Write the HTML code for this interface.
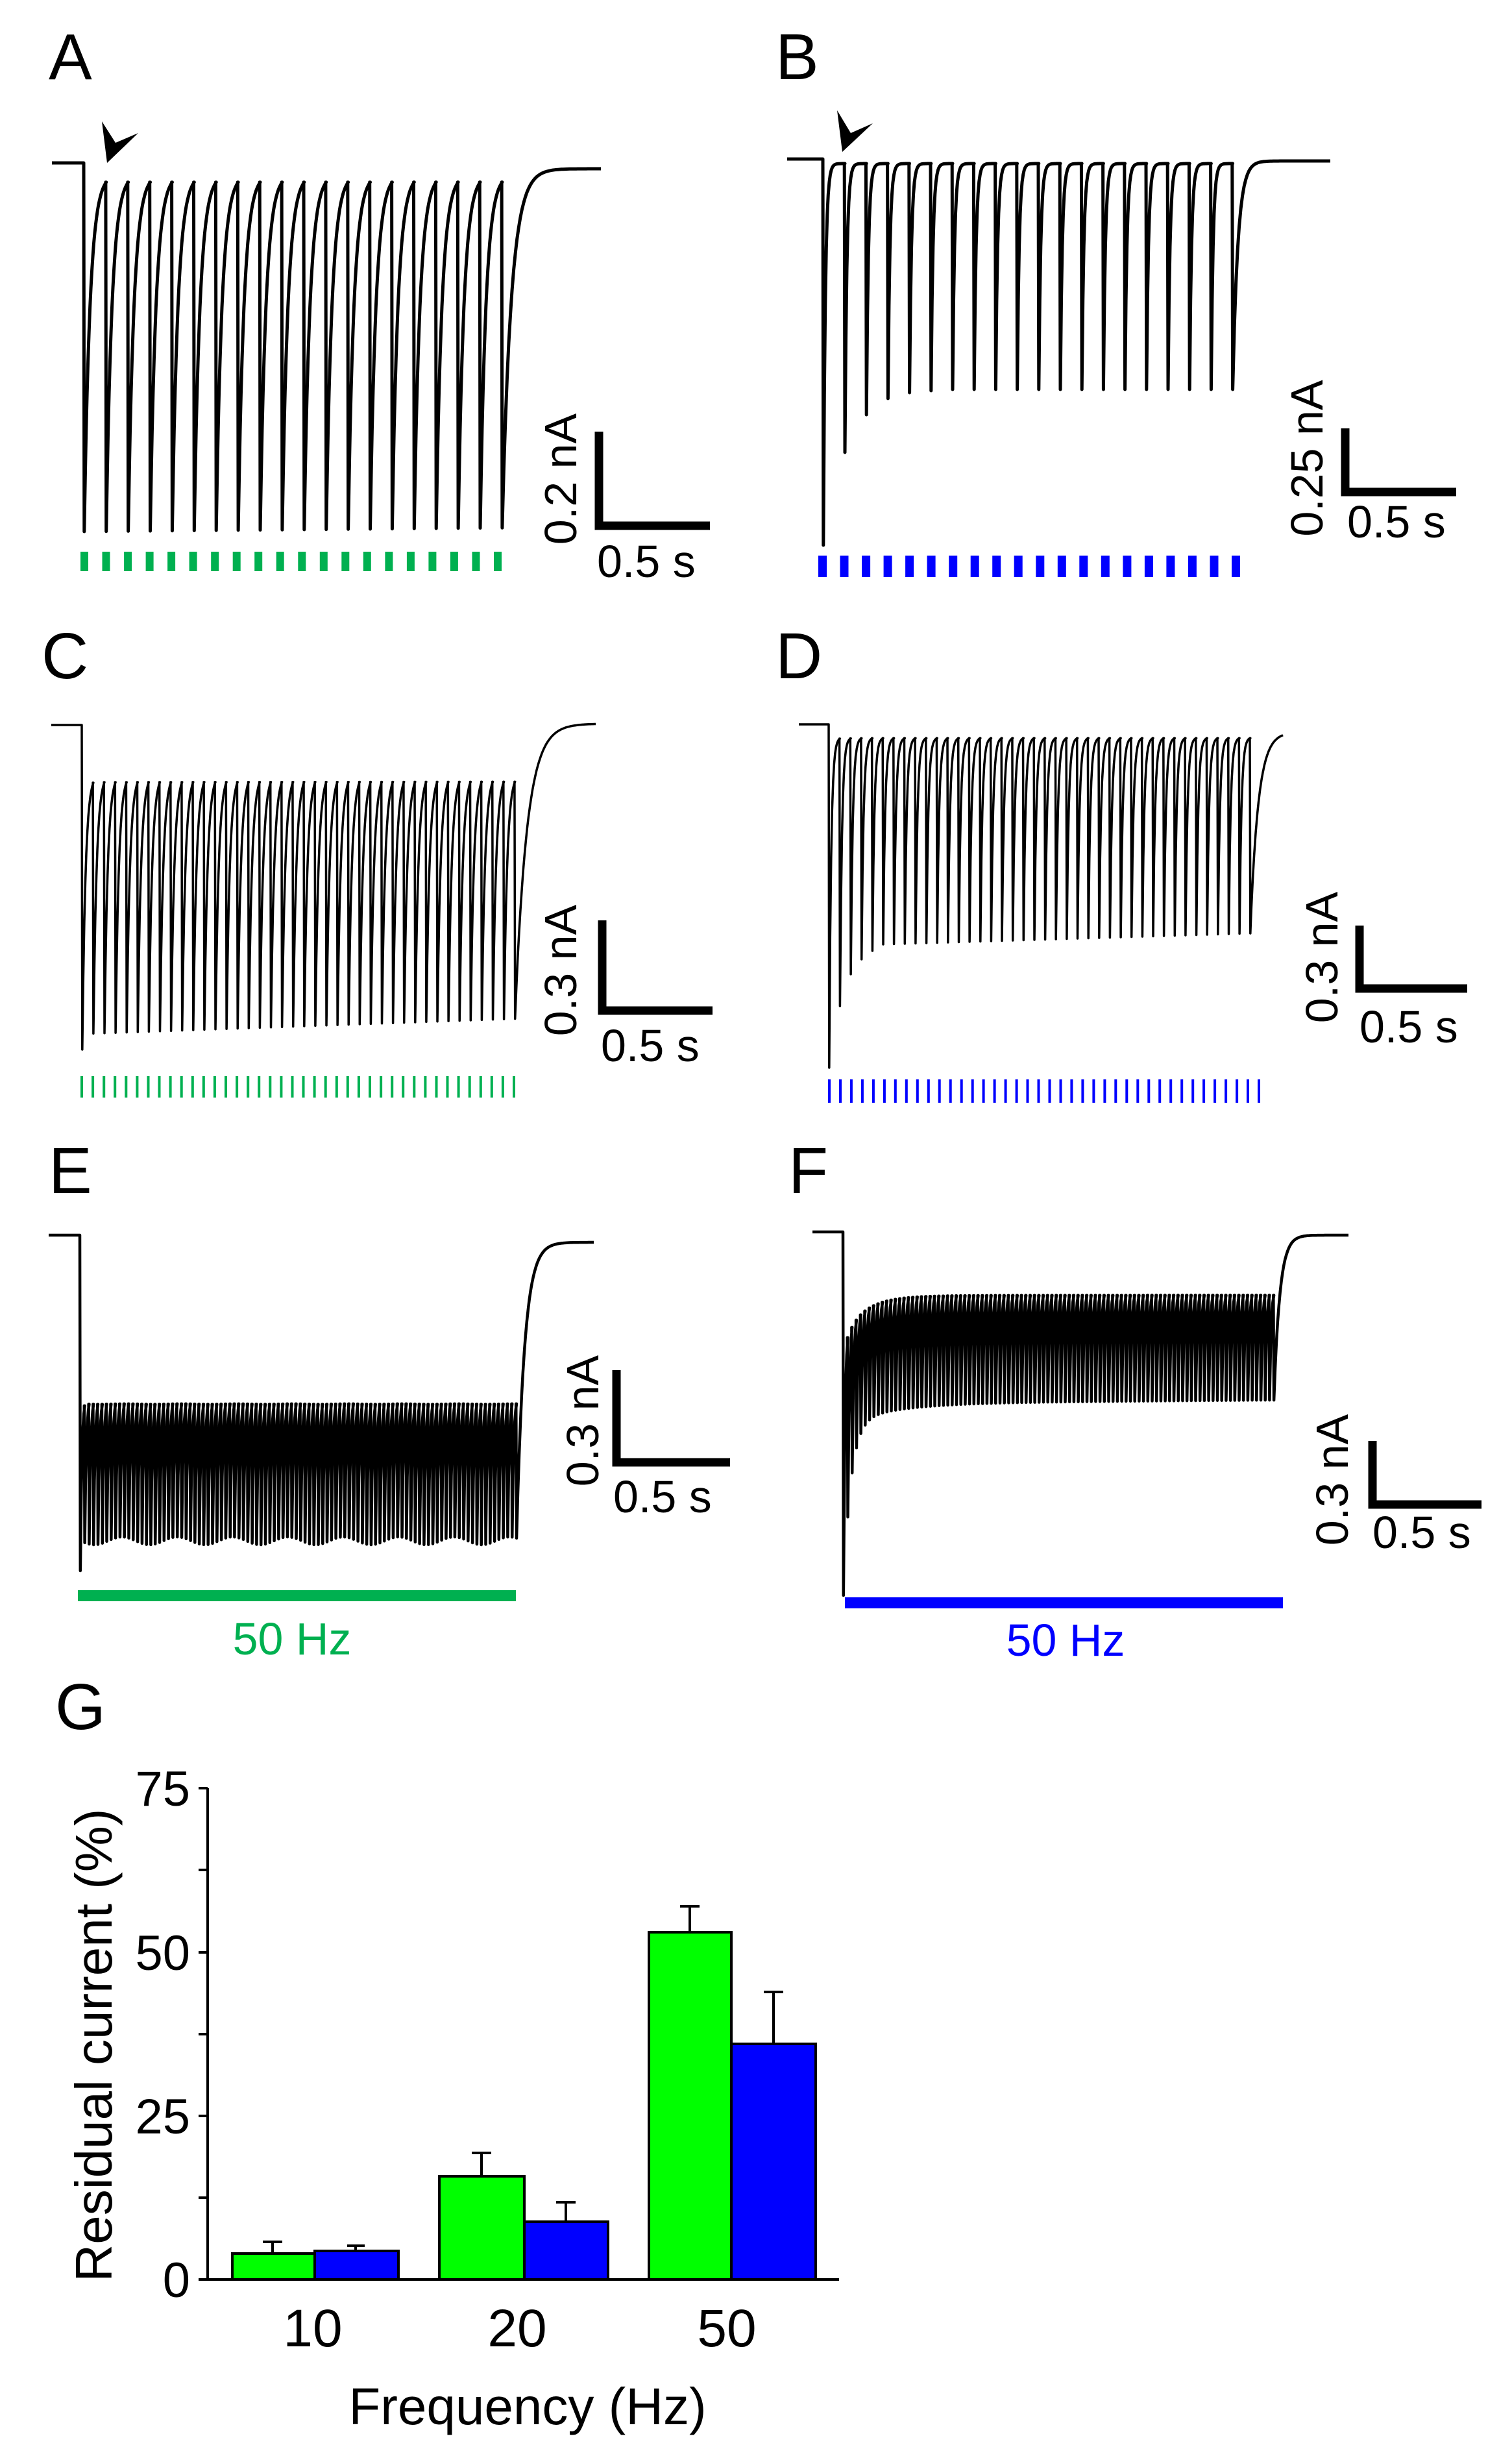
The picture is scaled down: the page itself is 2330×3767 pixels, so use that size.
<!DOCTYPE html>
<html><head><meta charset="utf-8">
<style>html,body{margin:0;padding:0;background:#fff}svg{display:block}</style>
</head><body>
<svg id="s" xmlns="http://www.w3.org/2000/svg" width="2330" height="3767" viewBox="0 0 2330 3767" font-family="Liberation Sans, sans-serif">
<rect width="2330" height="3767" fill="#fff"/>
<g id="traces" fill="none" stroke="#000" stroke-linejoin="round"></g>
<g id="ticks"></g>
<g font-size="100" fill="#000">
<text x="75" y="122">A</text><text x="1195" y="122">B</text>
<text x="64" y="1045">C</text><text x="1195" y="1045">D</text>
<text x="75" y="1838">E</text><text x="1215" y="1838">F</text>
<text x="85" y="2664">G</text>
</g>
<polygon points="165,251 157,187 178,220 213,205" fill="#000"/>
<polygon points="1298,234 1290,170 1311,205 1345,190" fill="#000"/>
<g stroke="#000" stroke-width="13" fill="none">
<path d="M923,665 V810 H1094"/>
<path d="M2073,660 V758 H2244"/>
<path d="M928,1418 V1557 H1098"/>
<path d="M2095,1426 V1523 H2261"/>
<path d="M950,2111 V2253 H1125"/>
<path d="M2115,2220 V2318 H2283"/>
</g>
<g font-size="70" fill="#000">
<text transform="translate(888,738) rotate(-90)" text-anchor="middle">0.2 nA</text>
<text x="920" y="889">0.5 s</text>
<text transform="translate(2038,706) rotate(-90)" text-anchor="middle">0.25 nA</text>
<text x="2076" y="828">0.5 s</text>
<text transform="translate(888,1495) rotate(-90)" text-anchor="middle">0.3 nA</text>
<text x="926" y="1635">0.5 s</text>
<text transform="translate(2061,1475) rotate(-90)" text-anchor="middle">0.3 nA</text>
<text x="2095" y="1606">0.5 s</text>
<text transform="translate(922,2189) rotate(-90)" text-anchor="middle">0.3 nA</text>
<text x="945" y="2330">0.5 s</text>
<text transform="translate(2077,2280) rotate(-90)" text-anchor="middle">0.3 nA</text>
<text x="2115" y="2385">0.5 s</text>
<text x="450" y="2549" text-anchor="middle" fill="#00b050">50 Hz</text>
<text x="1642" y="2551" text-anchor="middle" fill="#0000ff">50 Hz</text>
</g>
<rect x="120" y="2450" width="675" height="17" fill="#00b050"/>
<rect x="1302" y="2461" width="675" height="17" fill="#0000ff"/>
<g stroke="#000" stroke-width="4">
<line x1="320" y1="2755" x2="320" y2="3514"/>
<line x1="306" y1="3512" x2="1293" y2="3512"/>
<line x1="306" y1="2755" x2="320" y2="2755"/>
<line x1="306" y1="2881" x2="320" y2="2881"/>
<line x1="306" y1="3008" x2="320" y2="3008"/>
<line x1="306" y1="3134" x2="320" y2="3134"/>
<line x1="306" y1="3260" x2="320" y2="3260"/>
<line x1="306" y1="3386" x2="320" y2="3386"/>
<path d="M420,3472 V3454 M405,3454 H435" fill="none"/>
<path d="M548,3468 V3460 M535,3460 H562" fill="none"/>
<path d="M742,3353 V3317 M727,3317 H757" fill="none"/>
<path d="M872,3423 V3393 M857,3393 H887" fill="none"/>
<path d="M1063,2977 V2937 M1048,2937 H1078" fill="none"/>
<path d="M1192,3149 V3069 M1177,3069 H1207" fill="none"/>
<rect x="358" y="3472" width="127" height="40" fill="#00ff00"/>
<rect x="485" y="3468" width="129" height="44" fill="#0000ff"/>
<rect x="677" y="3353" width="131" height="159" fill="#00ff00"/>
<rect x="808" y="3423" width="129" height="89" fill="#0000ff"/>
<rect x="1000" y="2977" width="127" height="535" fill="#00ff00"/>
<rect x="1127" y="3149" width="130" height="363" fill="#0000ff"/>
</g>
<g font-size="76" fill="#000" text-anchor="end">
<text x="293" y="2782">75</text>
<text x="293" y="3035">50</text>
<text x="293" y="3287">25</text>
<text x="293" y="3539">0</text>
</g>
<g font-size="82" fill="#000" text-anchor="middle">
<text x="482" y="3615">10</text>
<text x="797" y="3615">20</text>
<text x="1120" y="3615">50</text>
<text x="813" y="3735" font-size="80">Frequency (Hz)</text>
<text transform="translate(172,3151) rotate(-90)" font-size="80">Residual current (%)</text>
</g>
</svg>
<script>
(function(){
var NS="http://www.w3.org/2000/svg";
var tg=document.getElementById("traces"), kg=document.getElementById("ticks");
function trace(o){
  var d="M"+o.x0+","+o.base+" L"+o.p0+","+o.base;
  var n=o.n, y=o.base;
  for(var i=0;i<n;i++){
    var x=o.p0+i*o.sp, tr=o.trough(i), tgt=o.target(i);
    d+=" L"+x.toFixed(1)+","+y.toFixed(1)+" L"+(x+0.8).toFixed(1)+","+tr.toFixed(1);
    var end=(i<n-1)?o.sp:0;
    var steps=Math.max(3,Math.round(end/1.5));
    for(var k=1;k<=steps&&end>0;k++){
      var t=end*k/steps;
      y=tgt+(tr-tgt)*Math.exp(-t/o.tau);
      d+=" L"+(x+0.8+t).toFixed(1)+","+y.toFixed(1);
    }
    if(i==n-1){
      var xl=x+0.8;
      for(var k=1;k<=60;k++){
        var t=(o.xe-xl)*k/60;
        var yy=o.ye+(tr-o.ye)*Math.exp(-t/o.taue);
        d+=" L"+(xl+t).toFixed(1)+","+yy.toFixed(1);
      }
    }
  }
  var p=document.createElementNS(NS,"path");
  p.setAttribute("d",d);p.setAttribute("stroke-width",o.w);
  tg.appendChild(p);
}
function ticks(x0,x1,n,y0,y1,w,c){
  var sp=(x1-x0)/(n-1);
  for(var i=0;i<n;i++){
    var r=document.createElementNS(NS,"rect");
    r.setAttribute("x",(x0+i*sp).toFixed(1));r.setAttribute("y",y0);
    r.setAttribute("width",w);r.setAttribute("height",y1-y0);r.setAttribute("fill",c);
    kg.appendChild(r);
  }
}
trace({x0:80,base:251,p0:129,n:20,sp:33.9,trough:function(i){return 819-i*0.3;},target:function(){return 268;},tau:9,xe:926,ye:260,taue:14,w:5});
var bt=[840,697,639,614,605,602];
trace({x0:1213,base:245,p0:1268,n:20,sp:33.2,trough:function(i){return i<bt.length?bt[i]:600;},target:function(){return 252;},tau:3,xe:2050,ye:248,taue:8,w:5});
trace({x0:79,base:1117,p0:126,n:40,sp:17.1,trough:function(i){return i==0?1617:1593-i*0.6;},target:function(){return 1192;},tau:5,xe:918,ye:1115,taue:18,w:3.5});
var dt=[1645,1550,1501,1478,1465];
trace({x0:1231,base:1116,p0:1277,n:40,sp:16.64,trough:function(i){return i<dt.length?dt[i]:1455-(i-5)*0.5;},target:function(){return 1136;},tau:3,xe:1977,ye:1128,taue:12,w:3.5});
trace({x0:75,base:1903,p0:123,n:100,sp:6.79,trough:function(i){return i==0?2420:2374+6*Math.sin(i*0.5);},target:function(){return 2150;},tau:2.4,xe:915,ye:1914,taue:12,w:4.5});
trace({x0:1252,base:1898,p0:1299,n:100,sp:6.7,trough:function(i){return 2162+266*Math.exp(-i/1.7)+30*Math.exp(-i/12)-i*0.05;},target:function(i){return 1985+50*Math.exp(-i/5);},tau:2.4,xe:2078,ye:1903,taue:9,w:4.5});
ticks(124,761,20,850,880,12,"#00b050");
ticks(1261,1898,20,856,889,13,"#0000ff");
ticks(124,790,40,1658,1691,4,"#00b050");
ticks(1276,1938,40,1663,1699,4,"#0000ff");
})();
</script>
</body></html>
